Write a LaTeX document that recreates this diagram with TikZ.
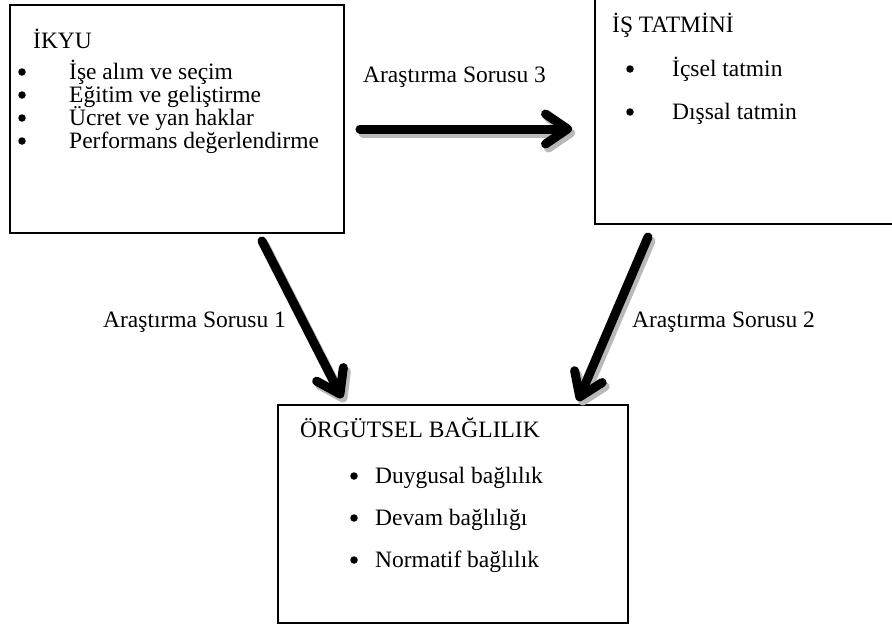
\documentclass[tikz,border=0pt]{standalone}
\usepackage{fontspec}
\setmainfont{Liberation Serif}
\usetikzlibrary{
  arrows.meta,
  positioning
}
\tikzset{
%
  % For the boxes.
  box/.style={
    draw,
    line width=1.4pt,
    inner sep=0pt},
%
  % For all texts.
  txt/.style={
    anchor=base west,
    inner sep=0pt,
    font=\fontsize{23.5}{23.5}\selectfont},
%
  % For the bullets.
  dot/.style={
    circle,
    fill,
    inner sep=0pt,
    minimum size=7.5pt},
%
  % For the thick arrows.
  flow/.style={
    line width=9pt,
    line cap=round,
    -{Straight Barb[length=22pt,
                    width=30pt,
                    round]}},
%
  % For the shadows of the arrows.
  flow shade/.style={
    flow,
    gray!55}
}

\begin{document}
\begin{tikzpicture}[x=1pt, y=-1pt]
  \useasboundingbox (0,0) rectangle (892,629);
  \clip (0,0) rectangle (892,629);

  % the three boxes
  \node[box, minimum width=334pt, minimum height=228pt] (ikyu) at (177,119) {};
  \node[box, minimum width=310pt, minimum height=242pt] (tatmin) at (750,103) {};
  \node[box, minimum width=350pt, minimum height=218pt] (baglilik) at (453,514) {};

  \node[txt] (ikyuT) at (33,48) {İKYU};
  \foreach \t [count=\i] in {İşe alım ve seçim, Eğitim ve geliştirme,
                             Ücret ve yan haklar, Performans değerlendirme} {
    \node[dot] (ikyuB\i) at (22,49+23*\i) {};
    \node[txt] (ikyuI\i) at (69,56+23*\i) {\t};
  }

  \node[txt] (tatminT) at (612,32) {İŞ TATMİNİ};
  \foreach \t [count=\i] in {İçsel tatmin, Dışsal tatmin} {
    \node[dot] (tatminB\i) at (630,26+43*\i) {};
    \node[txt] (tatminI\i) at (672,33+43*\i) {\t};
  }

  \node[txt] (baglilikT) at (300,437) {ÖRGÜTSEL BAĞLILIK};
  \foreach \t [count=\i] in {Duygusal bağlılık, Devam bağlılığı,
                             Normatif bağlılık} {
    \node[dot] (baglilikB\i) at (354,434+42*\i) {};
    \node[txt] (baglilikI\i) at (375,441+42*\i) {\t};
  }

  % labels of the arrows
  \node[txt] (soru3) at (363,82) {Araştırma Sorusu 3};
  \node[txt] (soru1) at (103,327) {Araştırma Sorusu 1};
  \node[txt] (soru2) at (632,327) {Araştırma Sorusu 2};

  % ends of the arrows
  \coordinate (s3a) at (360,129);
  \coordinate (s3b) at (572,129);
  \coordinate (s1a) at (262,241);
  \coordinate (s1b) at (342,398);
  \coordinate (s2a) at (648,237);
  \coordinate (s2b) at (578,401);

  \foreach \a/\b in {s3a/s3b, s1a/s1b, s2a/s2b} {
    \draw[flow shade] ([shift={(3,4)}]\a) -- ([shift={(3,4)}]\b);
    \draw[flow] (\a) -- (\b);
  }
\end{tikzpicture}
\end{document}
